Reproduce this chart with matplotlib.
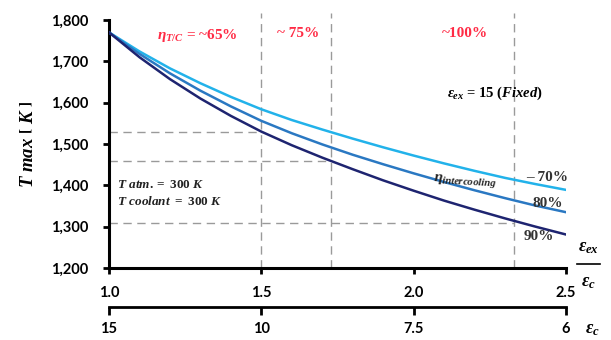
import matplotlib
matplotlib.use("Agg")
import matplotlib.pyplot as plt
import numpy as np

# ---- data ----
ratio = [1.0, 1.1, 1.2, 1.3, 1.4, 1.5, 1.6, 1.7, 1.8, 1.9, 2.0, 2.1, 2.2, 2.3, 2.4, 2.5]
t_70 = [1770, 1724, 1683, 1647, 1614, 1584, 1558, 1535, 1513, 1492, 1472, 1453, 1435, 1418, 1403, 1389]
t_80 = [1770, 1718, 1671, 1629, 1591, 1556, 1526, 1499, 1474, 1451, 1429, 1408, 1388, 1369, 1351, 1335]
t_90 = [1770, 1710, 1657, 1610, 1568, 1530, 1497, 1467, 1439, 1412, 1387, 1363, 1341, 1320, 1300, 1281]

ref_ratio = [1.5, 1.73, 2.33]
ref_temp = [1530, 1459, 1310]

y_ticks = [1200, 1300, 1400, 1500, 1600, 1700, 1800]
x_ticks = [1.0, 1.5, 2.0, 2.5]
x_ticklabels = ["1.0", "1.5", "2.0", "2.5"]
eps_c_ticks = [15, 10, 7.5, 6]
eps_c_labels = ["15", "10", "7.5", "6"]
eps_ex = 15.0

plt.rcParams['mathtext.fontset'] = 'custom'
plt.rcParams['mathtext.rm'] = 'Liberation Serif:bold'
plt.rcParams['mathtext.it'] = 'Liberation Serif:italic:bold'
plt.rcParams['mathtext.bf'] = 'Liberation Serif:bold'

fig = plt.figure(figsize=(6.11, 3.40), dpi=100)
ax = fig.add_axes([109/611, 1-268/340, 457/611, 248/340])

c70, c80, c90 = "#22b2ea", "#2a78c2", "#1e2470"
ax.plot(ratio, t_70, color=c70, lw=1.8, zorder=3)
ax.plot(ratio, t_80, color=c80, lw=1.8, zorder=3)
ax.plot(ratio, t_90, color=c90, lw=1.8, zorder=3)

dash = dict(color="#9a9a9a", lw=1.0, ls=(0, (6, 4)), zorder=1)
for r, t in zip(ref_ratio, ref_temp):
    ax.plot([r, r], [1200, 1818], clip_on=False, **dash)
    ax.plot([1.0, r], [t, t], **dash)

ax.set_xlim(1.0, 2.5)
ax.set_ylim(1200, 1800)
ax.set_yticks(y_ticks)
ax.set_yticklabels([f"{v:,}" for v in y_ticks])
ax.set_xticks(x_ticks)
ax.set_xticklabels(x_ticklabels)
for s in ["top", "right"]:
    ax.spines[s].set_visible(False)
for s in ["left", "bottom"]:
    ax.spines[s].set_linewidth(2.2)
tickfont = dict(family="Lato", weight="bold", size=10.5)
ax.tick_params(axis="both", direction="out", length=4, width=2, color="black")
ax.tick_params(axis="y", pad=11)
ax.tick_params(axis="x", pad=9)
for lab in ax.get_xticklabels() + ax.get_yticklabels():
    lab.set_fontproperties(matplotlib.font_manager.FontProperties(**tickfont))

sec = ax.secondary_xaxis(-39/248, functions=(lambda r: eps_ex/np.asarray(r, float),
                                             lambda e: eps_ex/np.asarray(e, float)))
sec.set_xticks(eps_c_ticks)
sec.set_xticklabels(eps_c_labels)
sec.spines["bottom"].set_linewidth(2.0)
sec.tick_params(axis="x", direction="out", length=6, width=2, pad=5)
for lab in sec.get_xticklabels():
    lab.set_fontproperties(matplotlib.font_manager.FontProperties(**tickfont))

ax.set_ylabel(r"$T\ max\ \left[\ K\ \right]$", fontsize=13.5, labelpad=10)

red = "#ff2b45"
serif = dict(family="Liberation Serif", weight="bold")
ax.text(1.289, 1762, r"$\eta_{T/C}$ = ~65%", color=red, fontsize=11, ha="center", va="center", **serif)
ax.text(1.62, 1767, "~ 75%", color=red, fontsize=11, ha="center", va="center", **serif)
ax.text(2.168, 1767, "~100%", color=red, fontsize=11, ha="center", va="center", **serif)
ax.text(2.267, 1622, r"$\epsilon_{ex}$ = 15 $(Fixed)$", color="black", fontsize=10.5,
        ha="center", va="center", **serif)
ax.text(1.026, 1402, r"$T\ atm.=\ 300\ K$", color="#222222", fontsize=9.5, ha="left", va="center")
ax.text(1.026, 1361, r"$T\ coolant\ =\ 300\ K$", color="#222222", fontsize=9.5, ha="left", va="center")
ax.text(2.17, 1410, r"$\eta_{intercooling}$", color="#222222", fontsize=11, ha="center", va="center",
        rotation=-3)
ax.text(2.437, 1419, "– 70%", color="#333333", fontsize=11, ha="center", va="center", **serif)
ax.text(2.44, 1355, "80%", color="#333333", fontsize=11, ha="center", va="center", **serif)
ax.text(2.411, 1277, "90%", color="#333333", fontsize=11, ha="center", va="center", **serif)

# right-side axis labels
fig.text(588/611, 1-247/340, r"$\epsilon_{ex}$", fontsize=13, ha="center", va="center")
fig.add_artist(plt.Line2D([577/611, 600/611], [1-264/340, 1-264/340], color="black", lw=1.2))
fig.text(588/611, 1-282/340, r"$\epsilon_{c}$", fontsize=13, ha="center", va="center")
fig.text(592/611, 1-329/340, r"$\epsilon_{c}$", fontsize=13, ha="center", va="center")

fig.savefig("out.png", dpi=100)
